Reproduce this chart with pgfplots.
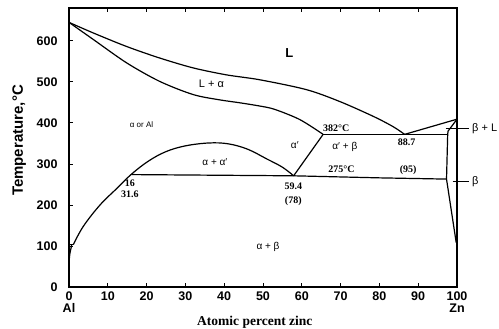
\documentclass[border=0pt]{standalone}
\usepackage{fontspec}
\setmainfont{Liberation Sans}
\newfontfamily\serif{Liberation Serif}
\usepackage{pgfplots}
\pgfplotsset{compat=1.18}
\begin{document}
\begin{tikzpicture}
\begin{axis}[
  scale only axis, width=388pt, height=279pt,
  xmin=0, xmax=100, ymin=0, ymax=680,
  clip=false,
  axis line style={line width=1.2pt},
  tick style={line width=0.8pt, black},
  tick align=inside, major tick length=4pt,
  xtick={0,10,...,100},
  xticklabels={{0\\Al},10,20,30,40,50,60,70,80,90,{100\\Zn}},
  xticklabel style={align=center, font=\fontsize{12.5}{12}\selectfont\bfseries, yshift=-1pt},
  ytick={0,100,...,600},
  yticklabel style={font=\fontsize{12.5}{12}\selectfont\bfseries, xshift=-8pt},
  /pgf/number format/assume math mode=true,
  xtick pos=both, xticklabel pos=bottom,
  ytick pos=left,
  xlabel={Atomic percent zinc},
  xlabel style={at={(axis description cs:0.479,0)}, anchor=base, yshift=-38.5pt, font=\serif\bfseries\fontsize{13.5}{14}\selectfont},
  ylabel={Temperature,°C},
  ylabel style={at={(axis description cs:0,0.525)}, anchor=base, rotate=0, yshift=46pt, font=\bfseries\fontsize{15}{16}\selectfont},
]
% liquidus L / L+alpha
\addplot[black, line width=1.2pt, smooth, tension=0.5] coordinates {
 (0,645) (6.3,619) (14.9,586) (23.4,558) (32,534) (40.6,517) (49.2,505)
 (61.2,481) (69.8,452) (78.4,416) (83.5,391) (86.5,372)};
% solidus alpha / L+alpha
\addplot[black, line width=1.2pt, smooth, tension=0.5] coordinates {
 (0,645) (6.3,603) (14.9,546) (23.4,501) (32,469) (38.9,456) (44,449) (49.2,441)
 (53,433) (59.5,408) (65.5,372)};
% alpha solvus + miscibility dome
\addplot[black, line width=1.2pt] coordinates {(0,103) (1.1,103)};
\addplot[black, line width=1.2pt] coordinates {(0.7,103) (0.2,80) (0,60)};
\addplot[black, line width=1.2pt, smooth, tension=0.6] coordinates {
 (1.1,103) (3.7,148) (8,200) (12.3,240) (16.1,275) (20.5,307) (25,330) (30,344) (36,351) (41,349)
 (46,336) (51,312) (55,292) (57.9,271)};
% alpha' right boundary
\addplot[black, line width=1.2pt] coordinates {(65.5,372) (57.9,271)};
% eutectic 382
\addplot[black, line width=1.2pt] coordinates {(65.5,372) (97.6,372)};
% beta liquidus
\addplot[black, line width=1.2pt] coordinates {(86.5,372) (100,409)};
% beta solidus / solvus
\addplot[black, line width=1.2pt] coordinates {(100,409) (97.7,380) (97.6,372) (97.3,263) (99.8,108)};
% eutectoid 275
\addplot[black, line width=1.2pt] coordinates {(16.1,274) (57.9,271) (80,266) (97.3,263)};
% pointer lines
\addplot[black, line width=0.8pt] coordinates {(97.1,386) (103.2,386)};
\addplot[black, line width=0.8pt] coordinates {(98.9,257) (103.2,257)};
% labels
\node[font=\bfseries\fontsize{13}{14}\selectfont] at (axis cs:56.8,570) {L};
\node[font=\fontsize{11}{12}\selectfont] at (axis cs:36.7,495) {L + α};
\node[font=\fontsize{8}{9}\selectfont] at (axis cs:18.7,396) {α or Al};
\node[font=\fontsize{10}{11}\selectfont] at (axis cs:37.6,304) {α + α′};
\node[font=\fontsize{10}{11}\selectfont] at (axis cs:58.2,347) {α′};
\node[font=\serif\bfseries\fontsize{10}{11}\selectfont] at (axis cs:68.9,387) {382°C};
\node[font=\fontsize{10}{11}\selectfont] at (axis cs:71.1,341) {α′ + β};
\node[font=\serif\bfseries\fontsize{10}{11}\selectfont] at (axis cs:87,352) {88.7};
\node[font=\serif\bfseries\fontsize{10}{11}\selectfont] at (axis cs:70.2,286) {275°C};
\node[font=\serif\bfseries\fontsize{10}{11}\selectfont] at (axis cs:87.4,286) {(95)};
\node[font=\serif\bfseries\fontsize{10}{11}\selectfont] at (axis cs:57.8,245) {59.4};
\node[font=\serif\bfseries\fontsize{10}{11}\selectfont] at (axis cs:57.8,209) {(78)};
\node[font=\serif\bfseries\fontsize{10}{11}\selectfont] at (axis cs:15.7,253) {16};
\node[font=\serif\bfseries\fontsize{10}{11}\selectfont] at (axis cs:15.7,227) {31.6};
\node[font=\fontsize{10}{11}\selectfont] at (axis cs:51.3,97.5) {α + β};
\node[font=\fontsize{11}{12}\selectfont, anchor=west, inner sep=1pt] at (axis cs:103.6,386) {β + L};
\node[font=\fontsize{11}{12}\selectfont, anchor=west, inner sep=1pt] at (axis cs:103.6,257) {β};
\end{axis}
\pgfresetboundingbox
\path[use as bounding box] (-69pt,-42pt) rectangle (430pt,287pt);
\end{tikzpicture}
\end{document}
